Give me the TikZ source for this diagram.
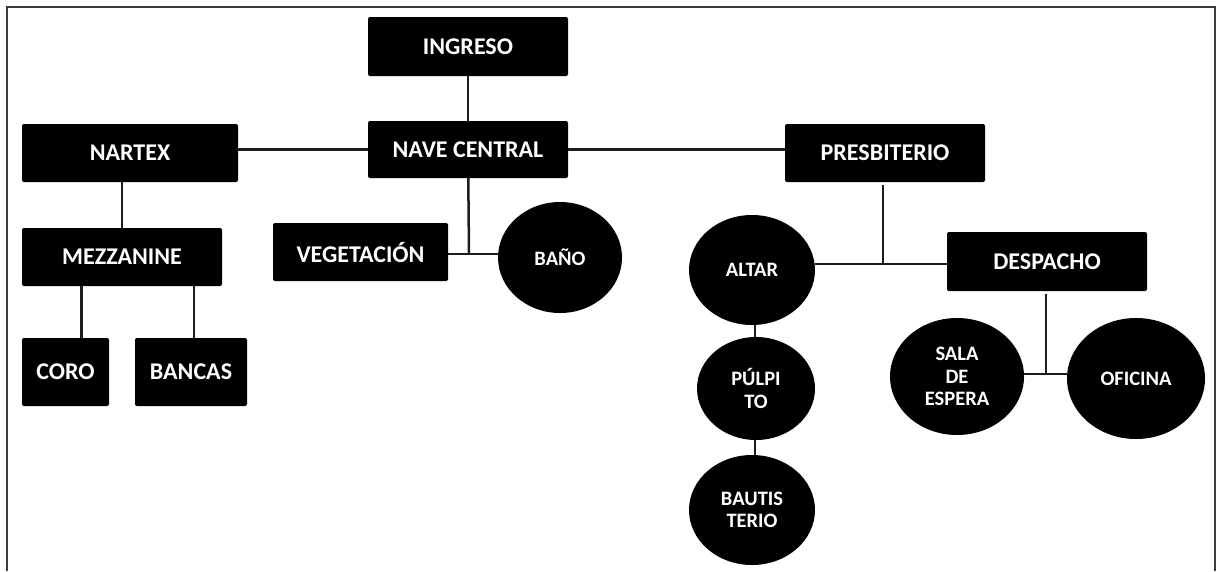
\documentclass[tikz,border=0pt]{standalone}
\usepackage{fontspec}
\setmainfont{Carlito}
\usepackage{tikz}
\usetikzlibrary{shapes.geometric}
\definecolor{Black}{HTML}{000000}
\definecolor{White}{HTML}{FFFFFF}
\definecolor{Line}{HTML}{1C1C1C}
\definecolor{Frame}{HTML}{3A3A3A}
\tikzset{
  every picture/.style={font={\bfseries}},
  room/.style={fill=Black, text=White, rounded corners=2pt, inner sep=0pt,
    font={\bfseries\fontsize{24}{27}\selectfont}},
  zone/.style={ellipse, fill=Black, text=White, inner sep=0pt, align=center,
    font={\bfseries\fontsize{20.5}{22.5}\selectfont}},
  link/.style={draw=Line, line width=2.5pt}}

\begin{document}
\begin{tikzpicture}[x=1pt, y=-1pt]
    \useasboundingbox (0,0) rectangle (1220,571);
    \draw[Frame, line width=1.6pt] (7,571) -- (7,7) -- (1215,7) -- (1215,571);

    % rectangular spaces
    \foreach \name/\x/\y/\w/\h/\txt in {
        ingreso/468/46.5/200/59/INGRESO,
        nave/468/149.5/200/57/{NAVE CENTRAL},
        nartex/130/153/216/58/NARTEX,
        mezzanine/122/257/200/58/MEZZANINE,
        vegetacion/360.5/252/175/58/VEGETACIÓN,
        presbiterio/885/153/200/58/PRESBITERIO,
        despacho/1047/261.5/200/59/DESPACHO,
        coro/65.5/372/87/68/CORO,
        bancas/191/372/112/68/BANCAS} {
      \node[room, minimum width=\w pt, minimum height=\h pt] (\name) at (\x,\y) {\txt};
    }

    % round spaces
    \foreach \name/\x/\y/\w/\h/\txt in {
        bano/560/257.5/124/111/BAÑO,
        altar/752/270/126/110/ALTAR,
        pulpito/756/388.5/118/103/{PÚLPI\\TO},
        bautisterio/752/510/126/110/{BAUTIS\\TERIO},
        sala/957/376.5/134/117/{SALA\\DE\\ESPERA},
        oficina/1136/378.5/138/121/OFICINA} {
      \node[zone, minimum width=\w pt, minimum height=\h pt] (\name) at (\x,\y) {\txt};
    }

    \coordinate (navejoin) at (469,254);
    \coordinate (presjoin) at (883,264);
    \coordinate (despjoin) at (1046,374);

    \draw[link] (ingreso) -- (nave);
    \draw[link] (nave.west) -- (nave.west -| nartex.east);
    \draw[link] (nave.east) -- (nave.east -| presbiterio.west);
    \draw[link] (nave) -- (navejoin);
    \draw[link] (vegetacion.east |- navejoin) -- (bano.west |- navejoin);
    \draw[link] (mezzanine.north) -- (mezzanine.north |- nartex.south);
    \draw[link] ([xshift=16pt]coro.north) -- ([xshift=16pt]coro.north |- mezzanine.south);
    \draw[link] ([xshift=3pt]bancas.north) -- ([xshift=3pt]bancas.north |- mezzanine.south);

    \draw[link] ([yshift=-3pt]presbiterio.south -| presjoin) -- (presjoin);
    \draw[link] (altar.east |- presjoin) -- (despacho.west |- presjoin);
    \draw[link] ([xshift=3pt]altar.south) -- ([xshift=3pt]altar.south |- pulpito.north);
    \draw[link] ([xshift=-1pt]pulpito.south) -- ([xshift=-1pt]pulpito.south |- bautisterio.north);
    \draw[link] ([yshift=-3pt]despacho.south -| despjoin) -- (despjoin);
    \draw[link] (sala.east |- despjoin) -- (oficina.west |- despjoin);
\end{tikzpicture}
\end{document}
